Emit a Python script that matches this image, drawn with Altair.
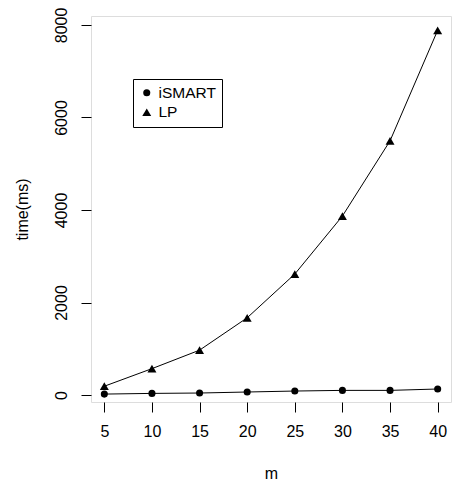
import altair as alt
import pandas as pd

m = [5, 10, 15, 20, 25, 30, 35, 40]
ismart = [20, 35, 43, 65, 86, 100, 100, 130]
lp = [190, 570, 970, 1670, 2615, 3870, 5495, 7885]
series = ["iSMART", "LP"]
x_ticks = [5, 10, 15, 20, 25, 30, 35, 40]
y_ticks = [0, 2000, 4000, 6000, 8000]

rows = []
for i, v in enumerate(m):
    rows.append({"m": v, "time": ismart[i], "method": series[0]})
for i, v in enumerate(m):
    rows.append({"m": v, "time": lp[i], "method": series[1]})
df = pd.DataFrame(rows)

FONT = "Liberation Sans"
SPACER = "\u00a0" * 3

x = alt.X("m:Q", title="m",
          scale=alt.Scale(domain=[3.6, 41.4], nice=False, zero=False),
          axis=alt.Axis(values=x_ticks, grid=False, domain=False, tickSize=10,
                        tickColor="black", labelFontSize=16, labelColor="black",
                        labelFont=FONT, labelPadding=11, titleFont=FONT,
                        titleFontSize=16, titleFontWeight="normal",
                        titleColor="black", titlePadding=26))
y = alt.Y("time:Q", title="time(ms)",
          scale=alt.Scale(domain=[-151, 8194], nice=False, zero=False),
          axis=alt.Axis(values=y_ticks, format="d", grid=False, domain=False,
                        tickSize=10, tickColor="black", labelFontSize=16,
                        labelColor="black", labelFont=FONT, labelAngle=270,
                        labelAlign="center", labelBaseline="bottom",
                        labelPadding=12, titleFont=FONT, titleFontSize=16,
                        titleFontWeight="normal", titleColor="black",
                        titlePadding=23))

legend = alt.Legend(title=SPACER, titleOrient="right", titlePadding=0,
                    titleFontSize=15.5, titleFont=FONT,
                    orient="none", legendX=42, legendY=63,
                    labelFontSize=15.5, labelFont=FONT, labelColor="black",
                    symbolFillColor="black", symbolStrokeColor="black",
                    strokeColor="black", fillColor="white",
                    padding=6, rowPadding=2.5, labelOffset=4)

base = alt.Chart(df)
lines = base.mark_line(color="black", strokeWidth=1).encode(
    x=x, y=y, detail="method:N")
points = base.mark_point(filled=True, color="black", opacity=1).encode(
    x=x, y=y,
    shape=alt.Shape("method:N",
                    scale=alt.Scale(domain=series, range=["circle", "triangle-up"]),
                    legend=legend),
    size=alt.Size("method:N",
                  scale=alt.Scale(domain=series, range=[50, 80]),
                  legend=legend))

chart = alt.layer(lines, points).properties(
    width=360, height=386,
    padding={"left": 91, "top": 16, "right": 3, "bottom": 94},
    autosize=alt.AutoSizeParams(type="none"),
).configure_view(stroke="black", strokeWidth=1).configure(background="white")

chart.save("out.html", embed_options={"renderer": "svg", "actions": False})
